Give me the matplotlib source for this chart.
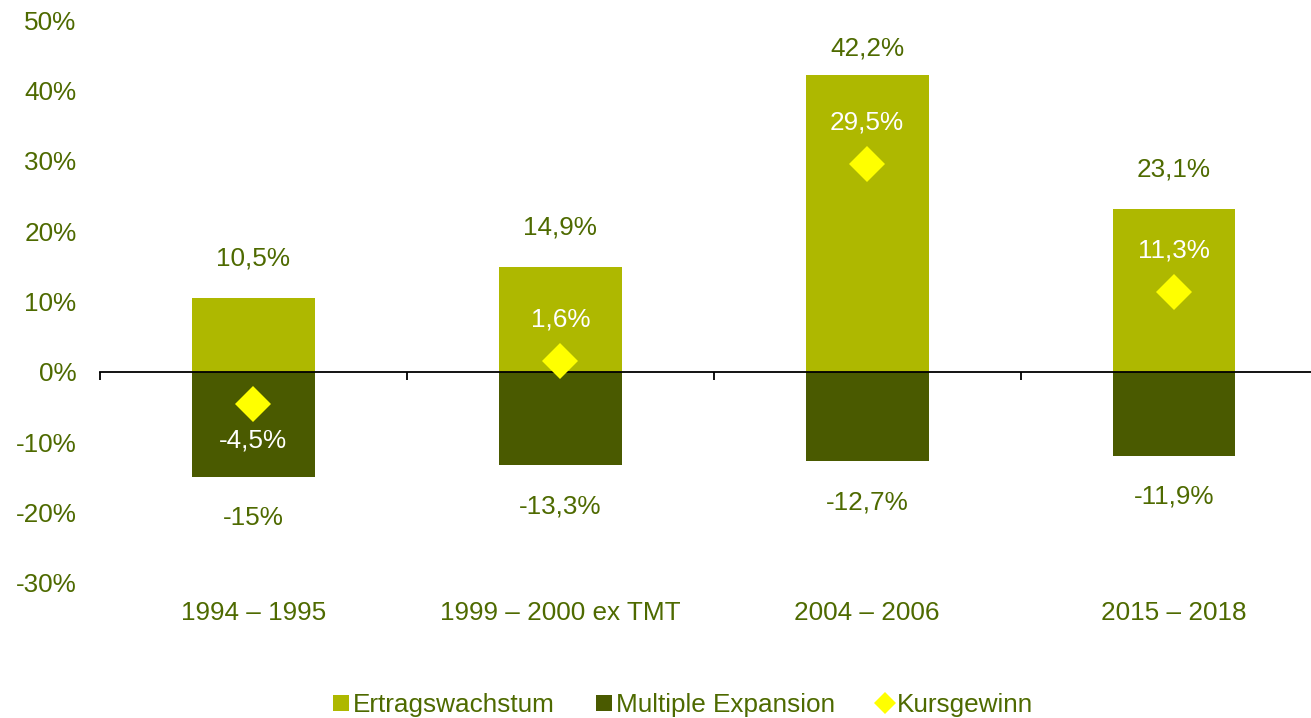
import matplotlib.pyplot as plt
from matplotlib.lines import Line2D
from matplotlib.patches import Patch
from matplotlib.ticker import FuncFormatter

plt.rcParams["font.family"] = ["Liberation Sans", "DejaVu Sans"]

categories = ["1994 – 1995", "1999 – 2000 ex TMT", "2004 – 2006", "2015 – 2018"]
ertrag = [10.5, 14.9, 42.2, 23.1]
multiple = [-15.0, -13.3, -12.7, -11.9]
kurs = [-4.5, 1.6, 29.5, 11.3]
ertrag_labels = ["10,5%", "14,9%", "42,2%", "23,1%"]
multiple_labels = ["-15%", "-13,3%", "-12,7%", "-11,9%"]
kurs_labels = ["-4,5%", "1,6%", "29,5%", "11,3%"]

LIGHT = "#AEB800"
DARK = "#4A5A00"
YELLOW = "#FFFF00"
TEXT = "#4E6A00"
FS = 18.8

fig = plt.figure(figsize=(13.11, 7.18), dpi=100)
W, H = 1311, 718
ax = fig.add_axes([100 / W, (718 - 583) / H, 1211 / W, (583 - 20) / H])

x = list(range(len(categories)))
ax.bar(x, ertrag, width=0.4, color=LIGHT, zorder=2)
ax.bar(x, multiple, width=0.4, color=DARK, zorder=2)
ax.plot(x, kurs, linestyle="none", marker="D", markersize=18, color=YELLOW,
        markeredgewidth=0, zorder=4)

for i in x:
    ax.text(i, min(ertrag[i] + 5.6, 46.0), ertrag_labels[i], ha="center", va="center",
            fontsize=FS, color=TEXT)
    ax.text(i, multiple[i] - 5.8, multiple_labels[i], ha="center", va="center",
            fontsize=FS, color=TEXT)
    ky = kurs[i] + 5.9 if kurs[i] >= 0 else kurs[i] - 5.2
    ax.text(i, ky, kurs_labels[i], ha="center", va="center", fontsize=FS, color="white",
            zorder=5)
    ax.text(i, -34.2, categories[i], ha="center", va="center", fontsize=FS, color=TEXT)

ax.set_xlim(-0.5, (1311 - 253) / 307)
ax.set_ylim(-30, 50)
ax.set_yticks(range(-30, 51, 10))
ax.yaxis.set_major_formatter(FuncFormatter(lambda v, _: f"{v:.0f}%"))
ax.tick_params(axis="y", length=0, labelsize=FS, labelcolor=TEXT, pad=17)

for s in ["left", "right", "top"]:
    ax.spines[s].set_visible(False)
ax.spines["bottom"].set_position(("data", 0))
ax.spines["bottom"].set_linewidth(1.3)
ax.spines["bottom"].set_zorder(3)
ax.set_xticks([-0.5, 0.5, 1.5, 2.5])
ax.set_xticklabels([])
ax.tick_params(axis="x", direction="out", length=6, width=1.3, color="black")

handles = [
    Patch(facecolor=LIGHT, edgecolor="none", label="Ertragswachstum"),
    Patch(facecolor=DARK, edgecolor="none", label="Multiple Expansion"),
    Line2D([], [], linestyle="none", marker="D", markersize=11, color=YELLOW,
           markeredgewidth=0, label="Kursgewinn"),
]
fig.legend(handles=handles, loc="center", bbox_to_anchor=(683 / W, 1 - 705 / H), ncol=3,
           frameon=False, fontsize=FS, labelcolor=TEXT, handlelength=0.6, handleheight=0.6,
           handletextpad=0.15, columnspacing=1.6, borderaxespad=0)

fig.savefig("out.png", dpi=100)
